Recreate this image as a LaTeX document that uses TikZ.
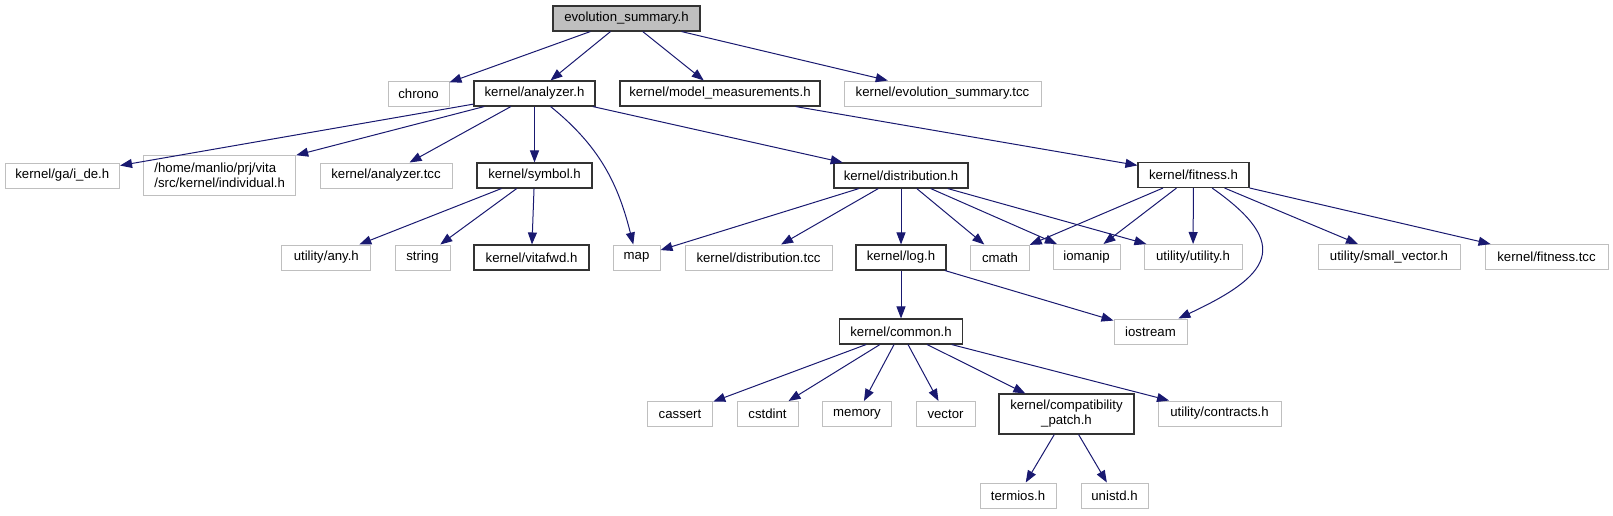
\documentclass[tikz,border=0pt]{standalone}
\usepackage{fontspec}
\setmainfont{Liberation Sans}
\usetikzlibrary{arrows.meta}
\definecolor{incblue}{RGB}{25,25,112}
\definecolor{sysgray}{RGB}{191,191,191}
\tikzset{
  file/.style={draw=black!80,line width=1.1pt,inner sep=0pt,minimum height=25pt},
  sysfile/.style={draw=sysgray,line width=1pt,inner sep=0pt,minimum height=25pt},
  rootfile/.style={file,fill=sysgray},
  edge/.style={draw=incblue,line width=1pt,-{Triangle[length=12pt,width=9pt]}}
}
\begin{document}
\begin{tikzpicture}[x=1pt,y=1pt,font=\fontsize{13.2}{15}\selectfont]
    \useasboundingbox (0,0) rectangle (1613,-515);
    % level 0 and 1
    \node[rootfile,minimum width=147] (root) at (626.5,-18.5) {evolution\_summary.h};
    \node[sysfile,minimum width=61] (chrono) at (418.5,-93.5) {chrono};
    \node[file,minimum width=121] (analyzer) at (534.5,-93.5) {kernel/analyzer.h};
    \node[file,minimum width=200] (modelm) at (720,-93.5) {kernel/model\_measurements.h};
    \node[sysfile,minimum width=197] (evotcc) at (942.5,-93.5) {kernel/evolution\_summary.tcc};
    % level 2
    \node[sysfile,minimum width=114.5] (gaide) at (62.3,-175.5) {kernel/ga/i\_de.h};
    \node[sysfile,minimum width=152,minimum height=40,align=left] (indiv) at (219.7,-175) {/home/manlio/prj/vita\\/src/kernel/individual.h};
    \node[sysfile,minimum width=132] (antcc) at (386,-175.5) {kernel/analyzer.tcc};
    \node[file,minimum width=115] (symbol) at (534.5,-175.5) {kernel/symbol.h};
    \node[file,minimum width=134] (distrib) at (901,-175.5) {kernel/distribution.h};
    \node[file,minimum width=111] (fitness) at (1193.5,-175) {kernel/fitness.h};
    % level 3
    \node[sysfile,minimum width=89] (anyh) at (326.3,-257.5) {utility/any.h};
    \node[sysfile,minimum width=55] (string) at (422.5,-257.5) {string};
    \node[file,minimum width=115] (vitafwd) at (531.5,-257.5) {kernel/vitafwd.h};
    \node[sysfile,minimum width=47] (map) at (636.5,-257.5) {map};
    \node[sysfile,minimum width=147] (disttcc) at (758.5,-257.5) {kernel/distribution.tcc};
    \node[file,minimum width=90] (logh) at (901,-257.5) {kernel/log.h};
    \node[sysfile,minimum width=58.5] (cmath) at (1000,-257.5) {cmath};
    \node[sysfile,minimum width=67] (iomanip) at (1086.5,-257) {iomanip};
    \node[sysfile,minimum width=98] (utility) at (1193,-257) {utility/utility.h};
    \node[sysfile,minimum width=142] (smallvec) at (1389,-257) {utility/small\_vector.h};
    \node[sysfile,minimum width=123] (fittcc) at (1546.5,-257) {kernel/fitness.tcc};
    % level 4
    \node[file,minimum width=123.5] (common) at (901,-331.5) {kernel/common.h};
    \node[sysfile,minimum width=73] (iostream) at (1150.5,-331.5) {iostream};
    % level 5
    \node[sysfile,minimum width=65.5] (cassert) at (680,-414) {cassert};
    \node[sysfile,minimum width=61] (cstdint) at (767.5,-414) {cstdint};
    \node[sysfile,minimum width=69.5] (memory) at (857,-414) {memory};
    \node[sysfile,minimum width=59] (vector) at (945.5,-414) {vector};
    \node[file,minimum width=135,minimum height=40,align=center] (compat) at (1066.5,-414) {kernel/compatibility\\\_patch.h};
    \node[sysfile,minimum width=123] (contracts) at (1219.5,-413.5) {utility/contracts.h};
    % level 6
    \node[sysfile,minimum width=76] (termios) at (1018,-495.5) {termios.h};
    \node[sysfile,minimum width=67] (unistd) at (1114.5,-495.5) {unistd.h};
    % includes
    \foreach \t in {chrono,analyzer,modelm,evotcc} \draw[edge] (root) -- (\t);
    \foreach \t in {gaide,indiv,antcc,symbol,distrib} \draw[edge] (analyzer) -- (\t);
    \draw[edge] (analyzer) to[out=-39,in=104] (map);
    \draw[edge] (modelm) -- (fitness);
    \foreach \t in {anyh,string,vitafwd} \draw[edge] (symbol) -- (\t);
    \foreach \t in {map,disttcc,logh,cmath,iomanip,utility} \draw[edge] (distrib) -- (\t);
    \foreach \t in {cmath,iomanip,utility,smallvec,fittcc} \draw[edge] (fitness) -- (\t);
    \draw[edge] (fitness) to[out=-35,in=25,looseness=1.9] (iostream);
    \foreach \t in {common,iostream} \draw[edge] (logh) -- (\t);
    \foreach \t in {cassert,cstdint,memory,vector,compat,contracts} \draw[edge] (common) -- (\t);
    \foreach \t in {termios,unistd} \draw[edge] (compat) -- (\t);
  \end{tikzpicture}
\end{document}
